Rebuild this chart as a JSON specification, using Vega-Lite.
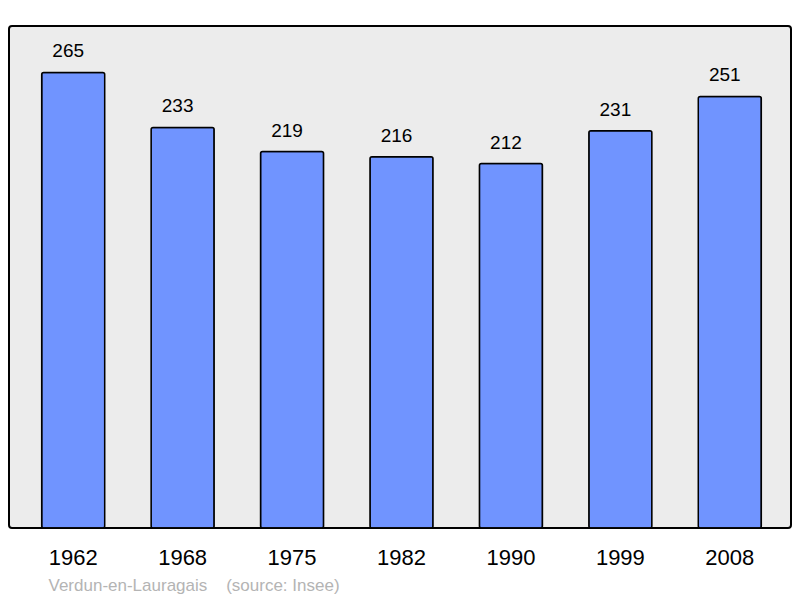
{
  "$schema": "https://vega.github.io/schema/vega-lite/v6.json",
  "width": 782,
  "height": 502,
  "autosize": {"type": "none"},
  "padding": {"left": 9, "top": 26, "right": 9, "bottom": 70},
  "background": "white",
  "config": {
    "font": "Liberation Sans",
    "view": {"fill": "#ececec", "stroke": "#000000", "strokeWidth": 2, "cornerRadius": 3}
  },
  "data": {
    "values": [
      {"year": "1962", "pop": 265},
      {"year": "1968", "pop": 233},
      {"year": "1975", "pop": 219},
      {"year": "1982", "pop": 216},
      {"year": "1990", "pop": 212},
      {"year": "1999", "pop": 231},
      {"year": "2008", "pop": 251}
    ]
  },
  "encoding": {
    "x": {
      "field": "year",
      "type": "nominal",
      "sort": null,
      "scale": {"paddingInner": 0.424, "paddingOuter": 0.285, "align": 0.524},
      "axis": {
        "title": "Verdun-en-Lauragais\u00a0\u00a0\u00a0\u00a0(source: Insee)",
        "titleFont": "Liberation Sans",
        "titleFontSize": 17,
        "titleFontWeight": "normal",
        "titleColor": "#b4b4b4",
        "titleAnchor": "start",
        "titleAlign": "left",
        "titleBaseline": "alphabetic",
        "titleX": 39,
        "titleY": 62,
        "labelAngle": 0,
        "labelFontSize": 22,
        "labelColor": "#000000",
        "labelBaseline": "alphabetic",
        "labelPadding": 36,
        "ticks": false,
        "domain": false,
        "grid": false
      }
    },
    "y": {
      "field": "pop",
      "type": "quantitative",
      "scale": {"domain": [0, 292], "nice": false, "zero": true},
      "axis": null
    }
  },
  "layer": [
    {
      "mark": {"type": "bar", "fill": "#7094ff", "stroke": "#000000", "strokeWidth": 1.5, "cornerRadius": 2}
    },
    {
      "mark": {"type": "text", "baseline": "alphabetic", "dx": -5, "dy": -15, "fontSize": 19, "color": "#000000"},
      "encoding": {"text": {"field": "pop", "type": "quantitative"}}
    }
  ]
}
